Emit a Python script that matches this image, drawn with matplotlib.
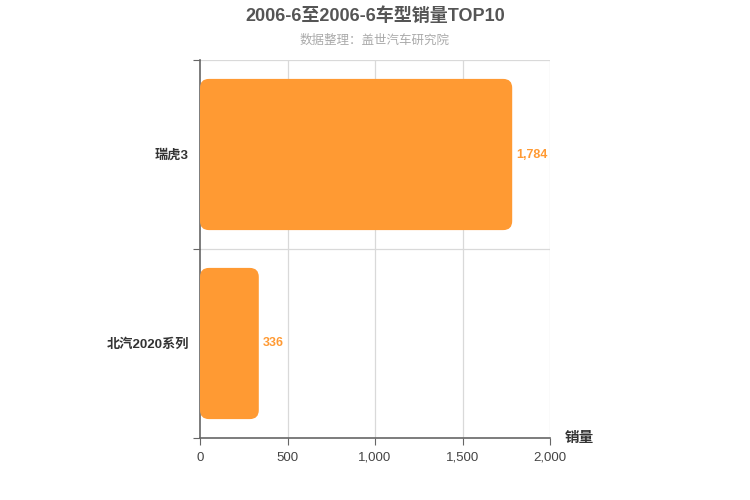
import matplotlib.pyplot as plt
from matplotlib.patches import FancyBboxPatch

plt.rcParams['font.family'] = ['Liberation Sans', 'Noto Sans CJK SC', 'DejaVu Sans']

models = ['北汽2020系列', '瑞虎3']
sales = [336, 1784]
xticks = [0, 500, 1000, 1500, 2000]
xticklabels = ['0', '500', '1,000', '1,500', '2,000']

bar_color = '#FF9A33'

fig = plt.figure(figsize=(7.5, 5), dpi=100)
ax = fig.add_axes([200 / 750, 62 / 500, 350 / 750, 378 / 500])

ax.set_xlim(0, 2000)
ax.set_ylim(-0.5, len(models) - 0.5)

# rounded bars: convert pixel radius to data units
ax_w_px = 350
ax_h_px = 378
x_per_px = 2000 / ax_w_px
y_per_px = len(models) / ax_h_px
radius_px = 9
bar_h = 0.8
for i, v in enumerate(sales):
    p = FancyBboxPatch((0, i - bar_h / 2), v, bar_h,
                       boxstyle=f"round,pad=0,rounding_size={radius_px * x_per_px}",
                       mutation_aspect=y_per_px / x_per_px,
                       facecolor=bar_color, edgecolor='none', zorder=3)
    ax.add_patch(p)
    ax.text(v + 25, i, f'{v:,}', va='center', ha='left', color=bar_color,
            fontsize=9, fontweight='bold', zorder=4)

# grid
for x in xticks[1:]:
    ax.axvline(x, color='#d9d9d9', lw=0.9, zorder=1)
ax.axhline(0.5, color='#d9d9d9', lw=0.9, zorder=1)
ax.axhline(len(models) - 0.5, color='#d9d9d9', lw=0.9, zorder=1)

for s in ['top', 'right']:
    ax.spines[s].set_visible(False)
for s in ['left', 'bottom']:
    ax.spines[s].set_color('#666666')
    ax.spines[s].set_linewidth(1.2)

ax.set_xticks(xticks)
ax.set_xticklabels(xticklabels, fontsize=9.5, color='#444444')
ax.tick_params(axis='x', length=5, color='#666666', pad=5)

ax.set_yticks([-0.5, 0.5, 1.5])
ax.set_yticklabels([])
ax.tick_params(axis='y', which='major', length=5, color='#666666')
ax.set_yticks(range(len(models)), minor=True)
ax.set_yticklabels(models, minor=True, fontsize=9.5, color='#333333', fontweight='bold')
ax.tick_params(axis='y', which='minor', length=0, pad=8)

fig.text(565 / 750, 1 - 438 / 500, '销量', fontsize=10.5, color='#333333',
         ha='left', va='center', fontweight='bold')

fig.text(0.5, 1 - 16 / 500, '2006-6至2006-6车型销量TOP10', ha='center', va='center',
         fontsize=13, fontweight='bold', color='#555555')
fig.text(0.5, 1 - 41 / 500, '数据整理：盖世汽车研究院', ha='center', va='center',
         fontsize=9, color='#aaaaaa')

fig.savefig('out.png', dpi=100)
